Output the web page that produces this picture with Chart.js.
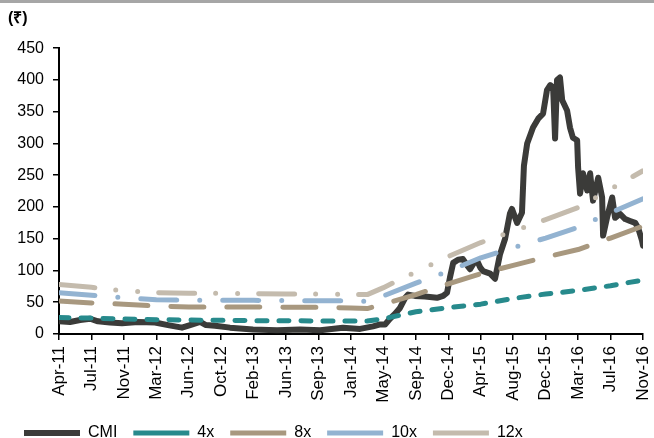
<!DOCTYPE html>
<html>
<head>
<meta charset="utf-8">
<script src="https://cdn.jsdelivr.net/npm/chart.js@4.4.1/dist/chart.umd.min.js"></script>
<style>
  html,body{margin:0;padding:0;background:#fff;}
  #wrap{position:relative;width:654px;height:438px;}
  #topbar{position:absolute;left:0;top:0;width:654px;height:3px;background:#a6a6a6;}
</style>
</head>
<body>
<div id="wrap">
  <canvas id="pe" width="654" height="438"></canvas>
  <div id="topbar"></div>
</div>
<script>
// x axis labels, one per tick (Excel style trading-day axis)
const tickLabels = ['Apr-11','Jul-11','Nov-11','Mar-12','Jun-12','Oct-12','Feb-13','Jun-13','Sep-13','Jan-14',
  'May-14','Sep-14','Dec-14','Apr-15','Aug-15','Dec-15','Mar-16','Jul-16','Nov-16'];

// CMI price: position (in tick units) and value (₹)
const cmiPos = [0,0.34,0.65,0.96,1.2,1.57,1.94,2.44,2.96,3.36,3.79,4.04,4.35,4.53,4.81,5.27,5.98,6.72,7.43,8.05,
  8.75,9.28,9.68,9.9,10.05,10.2,10.36,10.51,10.67,10.76,10.97,11.28,11.65,11.84,11.96,12.05,12.15,12.3,12.45,12.58,
  12.67,12.79,12.89,12.98,13.07,13.29,13.44,13.59,13.75,13.9,13.96,14.12,14.27,14.33,14.43,14.61,14.77,14.92,15.04,15.14,
  15.23,15.29,15.35,15.44,15.51,15.66,15.75,15.84,15.97,16,16.06,16.15,16.28,16.37,16.46,16.62,16.74,16.77,16.89,17.05,
  17.14,17.29,17.45,17.6,17.76,17.85,17.97,18];
const cmiVal = [20,19,22,24,20,18,17,19,18,14,10,14,19,14,13,10,7,6,7,6,
  10,8,12,15,15,24,32,41,57,62,60,59,57,60,65,89,112,117,118,108,
  102,112,115,105,99,95,87,125,150,190,197,175,191,265,300,325,339,347,384,392,
  388,308,400,404,368,352,325,309,305,262,221,253,226,253,210,246,215,155,183,215,
  183,189,181,178,175,167,147,139];

// P/E band lines
const bandPos = [0,1,2,3,4,5,6,7,8,9,9.5,10,11,12,13,14,15,16,17,18];
const pe4x  = [26,25,23.5,22.5,22,21.5,21,21,20.5,20.5,20.5,24,35,41.5,47,56,63,68.5,76,85];
const pe8x  = [52,49,47,44,42.5,42.5,42.5,42,42,41,40,47,62,79,95,108,121,133,151,170];
const pe10x = [65,61,57,54,53,53,53,52.5,52.5,52,51.5,60,80,99,120,136,151,168,191,213];
const pe12x = [78,73.5,68,65,64,64,63.5,63,63,62,62,73,98,122,144,162,180,199,228,257];

const pts = (xs, ys) => xs.map((x, i) => ({x: x, y: ys[i]}));

const line = (label, xs, ys, color, dash, width, order) => ({
  label: label,
  data: pts(xs, ys),
  borderColor: color,
  backgroundColor: color,
  borderWidth: width,
  borderDash: dash,
  borderCapStyle: 'round',
  borderJoinStyle: 'round',
  pointRadius: 0,
  tension: 0,
  order: order
});

const font = {family: '"Liberation Sans", Arial, sans-serif', size: 16};

new Chart(document.getElementById('pe'), {
  type: 'line',
  data: {
    datasets: [
      line('CMI', cmiPos, cmiVal, '#3b3b39', [], 6, 1),
      line('4x', bandPos, pe4x, '#278a8c', [10, 12], 5, 0),
      line('8x', bandPos, pe8x, '#a8987f', [33, 23], 5, 0),
      line('10x', bandPos, pe10x, '#93b3d1', [36, 23, 0, 23], 5, 0),
      line('12x', bandPos, pe12x, '#c4bbad', [36, 21, 0, 22, 0, 21], 5, 0)
    ]
  },
  options: {
    responsive: false,
    animation: false,
    layout: {padding: {left: 8, right: 11, top: 0, bottom: -13}},
    plugins: {
      tooltip: {enabled: false},
      title: {
        display: true,
        text: '(₹)',
        align: 'start',
        color: '#000',
        font: {family: font.family, size: 16, weight: 'bold'},
        padding: {top: 9, bottom: 20}
      },
      legend: {
        position: 'bottom',
        align: 'start',
        labels: {
          usePointStyle: true,
          pointStyle: 'line',
          pointStyleWidth: 56,
          boxHeight: 16,
          padding: 16,
          color: '#000',
          font: font,
          sort: (a, b) => a.datasetIndex - b.datasetIndex
        }
      }
    },
    scales: {
      x: {
        type: 'linear',
        min: 0,
        max: 18,
        afterFit: s => { s.height = 75; s.paddingLeft = 0; s.paddingRight = 0; },
        afterBuildTicks: s => { s.ticks = tickLabels.map((t, i) => ({value: i})); },
        grid: {drawOnChartArea: false, drawTicks: true, tickLength: 6, color: '#000', lineWidth: 1.5},
        border: {color: '#000', width: 2},
        ticks: {
          autoSkip: false,
          minRotation: 90,
          maxRotation: 90,
          padding: 6,
          color: '#000',
          font: {family: font.family, size: 17},
          callback: v => tickLabels[v]
        }
      },
      y: {
        min: 0,
        max: 450,
        afterFit: s => { s.width = 51; },
        grid: {drawOnChartArea: false, drawTicks: true, tickLength: 6, color: '#000', lineWidth: 1.5},
        border: {color: '#000', width: 2},
        ticks: {stepSize: 50, padding: 9, color: '#000', font: font}
      }
    }
  }
});
</script>
</body>
</html>
